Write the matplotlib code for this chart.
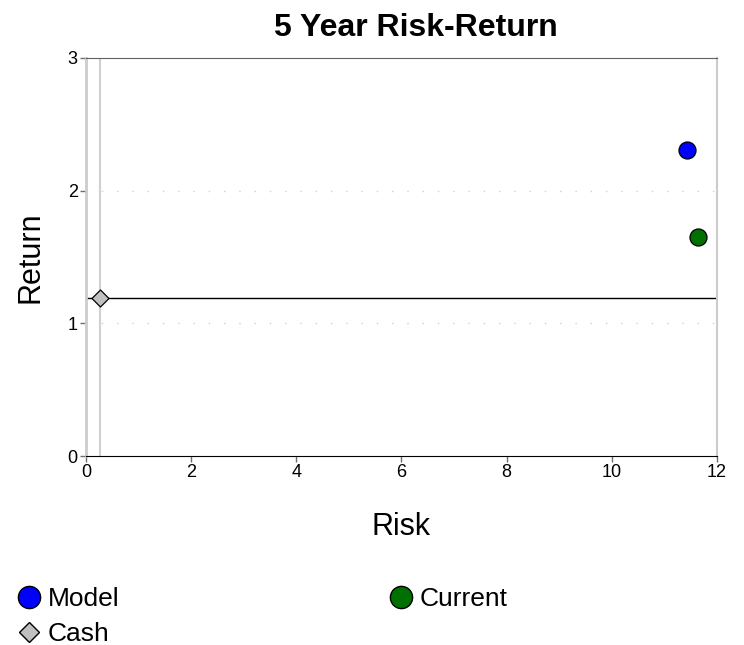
import matplotlib
matplotlib.use("Agg")
import matplotlib.pyplot as plt
from matplotlib.lines import Line2D

plt.rcParams['font.family'] = ['Liberation Sans', 'DejaVu Sans']

names = ["Model", "Current", "Cash"]
risk = [11.43, 11.64, 0.27]
ret = [2.31, 1.65, 1.19]
colors = ["#0000ff", "#007000", "#c0c0c0"]
markers = ["o", "o", "D"]

x_ticks = [0, 2, 4, 6, 8, 10, 12]
y_ticks = [0, 1, 2, 3]

fig = plt.figure(figsize=(7.44, 6.45), dpi=100)
ax = fig.add_axes([0.1156, 0.2930, 0.9637 - 0.1156, 0.9101 - 0.2930])
ax.set_xlim(0, 12)
ax.set_ylim(0, 3)

for yv in [1, 2]:
    ax.axhline(yv, color="#d0d0d0", lw=1, ls=(0, (1, 10)), zorder=1)

# cash reference lines
ax.axhline(ret[2], color="black", lw=1, zorder=2)
ax.axvline(risk[2], color="#d0d0d0", lw=1.5, zorder=2)

sizes = [150, 150, 75]
for i in range(3):
    ax.scatter([risk[i]], [ret[i]], s=sizes[i], c=colors[i], marker=markers[i],
               edgecolors="black", linewidths=0.9, zorder=5)

ax.set_xticks(x_ticks)
ax.set_yticks(y_ticks)
ax.tick_params(labelsize=13, length=4, color="#707070", width=1, pad=2)
for s in ["left", "right"]:
    ax.spines[s].set_color("#cccccc")
ax.spines["left"].set_linewidth(2)
ax.spines["right"].set_linewidth(1.5)
ax.spines["top"].set_color("#606060")
ax.spines["bottom"].set_color("black")

ax.set_title("5 Year Risk-Return", fontsize=23, fontweight="bold", pad=16, x=0.522)
ax.set_xlabel("Risk", fontsize=22, labelpad=22)
ax.set_ylabel("Return", fontsize=22, labelpad=16)

handles = []
order = [0, 2, 1]
for i in order:
    handles.append(Line2D([], [], marker=markers[i], ls="none", markersize=16 if markers[i] == "o" else 10.5,
                          markerfacecolor=colors[i], markeredgecolor="black", markeredgewidth=1,
                          label=names[i]))
fig.legend(handles=handles, loc="lower left", bbox_to_anchor=(0.007, -0.022), ncol=2,
           frameon=False, fontsize=19, handlelength=0.8, handletextpad=0.3,
           columnspacing=10.3, labelspacing=0.4, borderaxespad=0.1)

fig.savefig("out.png", dpi=100)
